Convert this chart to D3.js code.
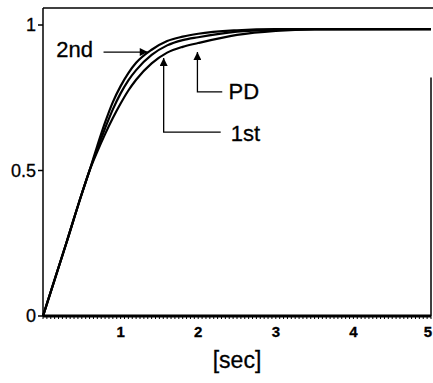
<!DOCTYPE html>
<html>
<head>
<meta charset="utf-8">
<script src="https://cdn.jsdelivr.net/npm/d3@7"></script>
<style>
  body { margin: 0; background: #fff; }
  text { font-family: "Liberation Sans", Arial, sans-serif; fill: #000; stroke: #000; stroke-width: 0.3; }
</style>
</head>
<body>
<script>
var w = 433;
var h = 383;

// time axis [sec]
var times = [0, 0.3, 0.5, 0.6, 0.7, 0.8, 0.9, 1.0, 1.1, 1.2, 1.4, 1.6, 1.8, 2.0, 2.5, 3.0, 3.5, 5.0];

// step responses
var second = [0, 0.25, 0.42, 0.5, 0.585, 0.665, 0.735, 0.79, 0.835, 0.87, 0.915, 0.945, 0.96, 0.97, 0.982, 0.986, 0.986, 0.986];
var first  = [0, 0.25, 0.42, 0.5, 0.575, 0.645, 0.71, 0.765, 0.81, 0.845, 0.897, 0.93, 0.948, 0.958, 0.977, 0.984, 0.986, 0.986];
var pd     = [0, 0.25, 0.42, 0.5, 0.565, 0.625, 0.68, 0.73, 0.775, 0.812, 0.868, 0.905, 0.925, 0.938, 0.966, 0.98, 0.985, 0.986];

var xTicks = [1, 2, 3, 4, 5];
var yTicks = [0, 0.5, 1];
var yTickLabels = ["0", "0.5", "1"];

var svg = d3.select("body").append("svg")
  .attr("width", w)
  .attr("height", h);

var x = d3.scaleLinear().domain([0, 5]).range([43, 431]);
var y = d3.scaleLinear().domain([0, 1]).range([316, 25]);

// arrow head
svg.append("defs").append("marker")
  .attr("id", "arrow")
  .attr("viewBox", "0 0 10 10")
  .attr("refX", 10)
  .attr("refY", 5)
  .attr("markerWidth", 10)
  .attr("markerHeight", 8)
  .attr("markerUnits", "userSpaceOnUse")
  .attr("orient", "auto")
  .append("path")
  .attr("d", "M0,0L10,5L0,10Z")
  .attr("fill", "#000");

// frame: top and partial right border
svg.append("line")
  .attr("x1", x(0)).attr("x2", w)
  .attr("y1", 8).attr("y2", 8)
  .attr("stroke", "#000").attr("stroke-width", 1.5);
svg.append("line")
  .attr("x1", x(5)).attr("x2", x(5))
  .attr("y1", y(0.82)).attr("y2", y(0))
  .attr("stroke", "#000").attr("stroke-width", 1.5);

// y axis
svg.append("line")
  .attr("x1", x(0)).attr("x2", x(0))
  .attr("y1", 8).attr("y2", y(0))
  .attr("stroke", "#000").attr("stroke-width", 1.5);

var yAxis = svg.append("g");
yAxis.selectAll("line").data(yTicks).enter().append("line")
  .attr("x1", x(0) - 5).attr("x2", x(0))
  .attr("y1", d => y(d)).attr("y2", d => y(d))
  .attr("stroke", "#000").attr("stroke-width", 1.5);
yAxis.selectAll("text").data(yTicks).enter().append("text")
  .attr("x", x(0) - 7)
  .attr("y", d => y(d))
  .attr("dy", "0.36em")
  .attr("text-anchor", "end")
  .attr("font-size", 18)
  .text((d, i) => yTickLabels[i]);

// x axis: thick rough line with dense minor ticks
svg.append("line")
  .attr("x1", x(0)).attr("x2", x(5))
  .attr("y1", y(0)).attr("y2", y(0))
  .attr("stroke", "#000").attr("stroke-width", 3);

svg.append("g").selectAll("line")
  .data(d3.range(0, 5.001, 0.05))
  .enter().append("line")
  .attr("x1", d => x(d)).attr("x2", d => x(d))
  .attr("y1", y(0)).attr("y2", y(0) + 3)
  .attr("stroke", "#000").attr("stroke-width", 1);

svg.append("g").selectAll("text")
  .data(xTicks)
  .enter().append("text")
  .attr("x", d => Math.min(x(d), w - 5))
  .attr("y", 337)
  .attr("text-anchor", "middle")
  .attr("font-size", 15)
  .attr("font-weight", "bold")
  .text(d => d);

svg.append("text")
  .attr("x", (x(0) + x(5)) / 2)
  .attr("y", 368)
  .attr("text-anchor", "middle")
  .attr("font-size", 23)
  .text("[sec]");

// response curves
var line = d3.line()
  .x((d, i) => x(times[i]))
  .y(d => y(d))
  .curve(d3.curveMonotoneX);

svg.append("g").selectAll("path")
  .data([pd, first, second])
  .enter().append("path")
  .attr("d", d => line(d))
  .attr("fill", "none")
  .attr("stroke", "#000")
  .attr("stroke-width", 2.2);

// annotations (positions in data units)
var notes = [
  { label: "2nd", path: [[0.78, 0.907], [1.35, 0.907]], tx: 0.17, ty: 0.89 },
  { label: "1st", path: [[2.29, 0.632], [1.555, 0.632], [1.555, 0.887]], tx: 2.42, ty: 0.6 },
  { label: "PD", path: [[2.31, 0.77], [1.99, 0.77], [1.99, 0.907]], tx: 2.39, ty: 0.744 }
];

var ann = svg.append("g").selectAll("g").data(notes).enter().append("g");

ann.append("path")
  .attr("d", d => d3.line().x(p => x(p[0])).y(p => y(p[1]))(d.path))
  .attr("fill", "none")
  .attr("stroke", "#000")
  .attr("stroke-width", 1.3)
  .attr("marker-end", "url(#arrow)");

ann.append("text")
  .attr("x", d => x(d.tx))
  .attr("y", d => y(d.ty))
  .attr("font-size", 22)
  .text(d => d.label);
</script>
</body>
</html>
